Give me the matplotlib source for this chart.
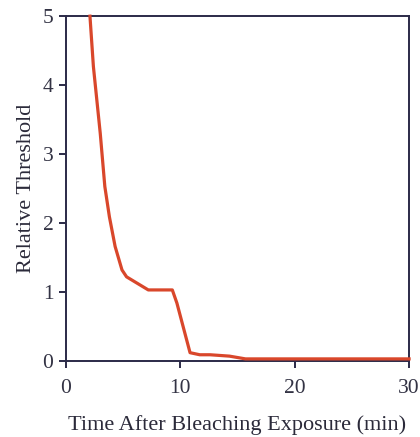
import numpy as np
import matplotlib.pyplot as plt

# time after bleaching (min) and relative threshold
time_min = [2.1, 2.4, 3.0, 3.4, 3.8, 4.3, 4.9, 5.3, 6.2, 7.2, 9.3, 9.7, 10.85,
            11.7, 12.6, 14.3, 15.7, 20, 25, 30]
threshold = [5.0, 4.27, 3.30, 2.53, 2.09, 1.66, 1.32, 1.22, 1.13, 1.03, 1.03,
             0.84, 0.12, 0.09, 0.09, 0.07, 0.03, 0.03, 0.03, 0.03]
x_ticks = [0, 10, 20, 30]
y_ticks = [0, 1, 2, 3, 4, 5]

plt.rcParams['font.family'] = ['Liberation Serif', 'DejaVu Serif']
ink = '#2b2a48'

fig = plt.figure(figsize=(4.2, 4.37), dpi=100)
ax = fig.add_axes([0.157, 0.174, 0.817, 0.789])
ax.plot(time_min, threshold, color='#d9472b', lw=2.3, solid_joinstyle='round',
        clip_on=False, zorder=3)

ax.set_xlim(0, 30)
ax.set_ylim(0, 5)
ax.set_xticks(x_ticks)
ax.set_yticks(y_ticks)
for s in ax.spines.values():
    s.set_color(ink)
    s.set_linewidth(1.4)
ax.tick_params(direction='out', length=5, width=1.4, color=ink,
               labelcolor='#333344', labelsize=15.5, pad=4)
ax.tick_params(axis='x', pad=8)
ax.set_xlabel('Time After Bleaching Exposure (min)', fontsize=16,
              color='#2b2a3a', labelpad=12)
ax.set_ylabel('Relative Threshold', fontsize=16, color='#2b2a3a', labelpad=5)

fig.savefig('out.png', dpi=100)
